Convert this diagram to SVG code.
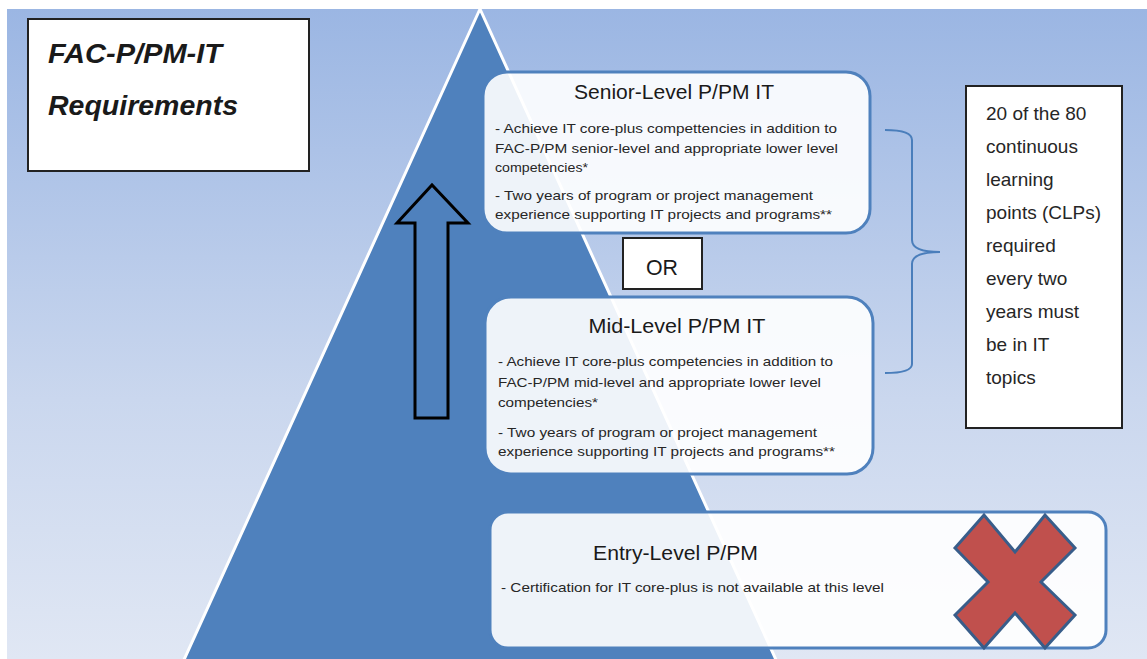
<svg xmlns="http://www.w3.org/2000/svg" width="1147" height="659" viewBox="0 0 1147 659">
  <defs>
    <linearGradient id="bg" x1="0" y1="0" x2="0" y2="1">
      <stop offset="0" stop-color="#9bb6e3"/>
      <stop offset="0.6" stop-color="#cad7ee"/>
      <stop offset="1" stop-color="#e0e7f4"/>
    </linearGradient>
  </defs>
  <style>
    .t { font-family: "Liberation Sans", Arial, sans-serif; fill: #1a1a1a; }
    .head { font-size: 21px; text-anchor: middle; }
    .body { font-size: 13.5px; fill: #262626; }
    .level { fill: #ffffff; fill-opacity: 0.9; stroke: #4f81bd; stroke-width: 3; }
    .plain { fill: #ffffff; stroke: #222222; stroke-width: 2; }
    .side { font-size: 19px; fill: #262626; }
  </style>

  <rect x="7" y="9" width="1140" height="650" fill="url(#bg)"/>

  <g id="pyramid">
    <polygon points="480,9 183,662 777,662" fill="#4f81bd" stroke="#ffffff" stroke-width="3" stroke-linejoin="miter"/>
  </g>

  <g id="title">
    <rect class="plain" x="28" y="19" width="281" height="152"/>
    <text class="t" x="48" y="63" font-size="28" font-weight="bold" font-style="italic" textLength="174" lengthAdjust="spacingAndGlyphs">FAC-P/PM-IT</text>
    <text class="t" x="48" y="115" font-size="28" font-weight="bold" font-style="italic" textLength="190" lengthAdjust="spacingAndGlyphs">Requirements</text>
  </g>

  <g id="connectors" fill="none">
    <path d="M397,223 L432,185 L468,223 L448,223 L448,418 L415,418 L415,223 Z" stroke="#000000" stroke-width="3" stroke-linejoin="miter"/>
    <path d="M885,130 Q912,130 912,140 L912,240 Q912,252 940,252 Q912,252 912,264 L912,364 Q912,373 885,373" stroke="#4a7ebb" stroke-width="2"/>
  </g>

  <g id="senior">
    <rect class="level" x="483" y="72" width="387" height="161" rx="24"/>
    <text class="t head" x="674" y="99" textLength="200" lengthAdjust="spacingAndGlyphs">Senior-Level P/PM IT</text>
    <text class="t body" x="495" y="133" textLength="342" lengthAdjust="spacingAndGlyphs">- Achieve IT core-plus compettencies in addition to</text>
    <text class="t body" x="495" y="153" textLength="343" lengthAdjust="spacingAndGlyphs">FAC-P/PM senior-level  and appropriate lower level</text>
    <text class="t body" x="495" y="172" textLength="93" lengthAdjust="spacingAndGlyphs">competencies*</text>
    <text class="t body" x="495" y="200" textLength="318" lengthAdjust="spacingAndGlyphs">- Two years of program or project management</text>
    <text class="t body" x="495" y="219" textLength="337" lengthAdjust="spacingAndGlyphs">experience supporting IT projects and programs**</text>
  </g>

  <g id="or">
    <rect class="plain" x="623" y="238" width="79" height="51"/>
    <text class="t" x="662" y="275" font-size="22" text-anchor="middle" textLength="32" lengthAdjust="spacingAndGlyphs">OR</text>
  </g>

  <g id="mid">
    <rect class="level" x="485" y="297" width="388" height="177" rx="26"/>
    <text class="t head" x="677" y="333" textLength="177" lengthAdjust="spacingAndGlyphs">Mid-Level P/PM IT</text>
    <text class="t body" x="498" y="366" textLength="335" lengthAdjust="spacingAndGlyphs">- Achieve IT core-plus competencies in addition to</text>
    <text class="t body" x="498" y="387" textLength="323" lengthAdjust="spacingAndGlyphs">FAC-P/PM mid-level and appropriate lower level</text>
    <text class="t body" x="498" y="407" textLength="100" lengthAdjust="spacingAndGlyphs">competencies*</text>
    <text class="t body" x="498" y="437" textLength="319" lengthAdjust="spacingAndGlyphs">- Two years of program or project management</text>
    <text class="t body" x="498" y="456" textLength="337" lengthAdjust="spacingAndGlyphs">experience supporting IT projects and programs**</text>
  </g>

  <g id="entry">
    <rect class="level" x="490" y="512" width="616" height="136" rx="18"/>
    <text class="t" x="593" y="560" font-size="21" textLength="165" lengthAdjust="spacingAndGlyphs">Entry-Level P/PM</text>
    <text class="t body" x="501" y="592" textLength="383" lengthAdjust="spacingAndGlyphs">- Certification for IT core-plus is not available at this level</text>
    <polygon points="955,548 984,515 1015,552 1045,515 1075,548 1041,582 1075,615 1045,648 1015,613 984,648 955,615 988,582" fill="#c0504d" stroke="#385d8a" stroke-width="3" stroke-linejoin="miter"/>
  </g>

  <g id="clp-note">
    <rect class="plain" x="966" y="86" width="156" height="342"/>
    <text class="t side" x="986" y="120">20 of the 80</text>
    <text class="t side" x="986" y="153">continuous</text>
    <text class="t side" x="986" y="186">learning</text>
    <text class="t side" x="986" y="219">points (CLPs)</text>
    <text class="t side" x="986" y="252">required</text>
    <text class="t side" x="986" y="285">every two</text>
    <text class="t side" x="986" y="318">years must</text>
    <text class="t side" x="986" y="351">be in IT</text>
    <text class="t side" x="986" y="384">topics</text>
  </g>
</svg>
